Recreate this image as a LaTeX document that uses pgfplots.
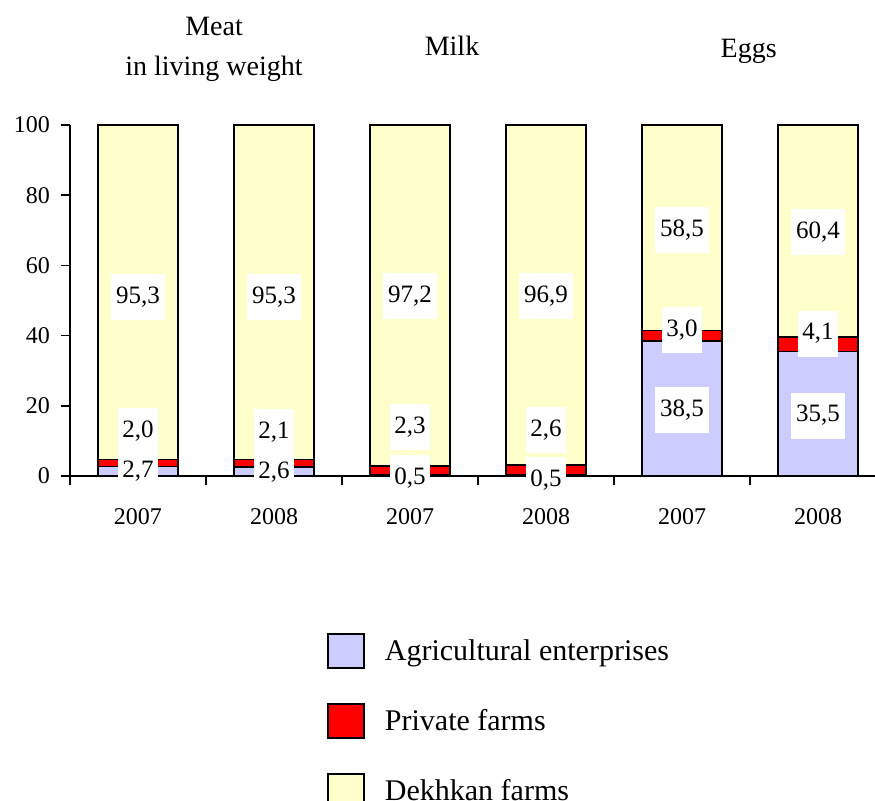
\documentclass[border=0pt]{standalone}
\usepackage{fontspec}
\setmainfont{Liberation Serif}
\usepackage{pgfplots}
\pgfplotsset{compat=1.18}
\usepackage{pgfplotstable}
\definecolor{agr}{HTML}{CCCCFF}
\definecolor{priv}{HTML}{FF0000}
\definecolor{dek}{HTML}{FFFFCC}

\pgfplotstableread{
x agr priv dek
0 2.7 2.0 95.3
1 2.6 2.1 95.3
2 0.5 2.3 97.2
3 0.5 2.6 96.9
4 38.5 3.0 58.5
5 35.5 4.1 60.4
}\datatable

\tikzset{lbl/.style={fill=white, inner xsep=2.4pt, inner ysep=0pt, minimum height=23pt, font=\fontsize{12.5}{14}\selectfont}}
\tikzset{ttl/.style={anchor=base, inner sep=0pt, font=\fontsize{14}{16}\selectfont}}

\begin{document}
\begin{tikzpicture}[x=1pt,y=1pt]
\useasboundingbox (0,0) rectangle (437.5,-400);
\begin{axis}[
  at={(35pt,-238pt)}, anchor=south west,
  scale only axis, width=402.5pt, height=175.5pt,
  xmin=-0.5, xmax=5.419, ymin=0, ymax=100,
  clip=false,
  axis x line*=bottom, axis y line*=left,
  axis line style={-, line width=0.75pt},
  every tick/.style={black, line width=0.75pt},
  tick align=outside,
  major tick length=4.5pt,
  ybar stacked, bar width=40pt, bar shift=0pt,
  ytick={0,20,...,100},
  yticklabel style={xshift=-2pt},
  xtick={-0.5,0.5,...,4.5}, xticklabels={},
  extra x ticks={0,1,2,3,4,5},
  extra x tick labels={2007,2008,2007,2008,2007,2008},
  extra x tick style={major tick length=0pt, xticklabel style={anchor=center, yshift=-20.5pt}},
  /pgf/number format/assume math mode=true,
  ticklabel style={font=\fontsize{12}{14}\selectfont},
  legend cell align=left,
  legend image code/.code={\draw[#1, line width=0.75pt] (0pt,-8.5pt) rectangle (18pt,8.5pt);},
  legend style={at={(0.3193,-0.4473)}, anchor=north west, draw=none, fill=none,
    inner sep=0pt, row sep=17.25pt, column sep=10pt,
    nodes={inner sep=0pt, font=\fontsize{15}{17}\selectfont}},
  after end axis/.code={
    \node[lbl] at (axis cs:0,51.1) {95,3};
    \node[lbl] at (axis cs:0,12.7) {2,0};
    \node[lbl] at (axis cs:0,1.4) {2,7};
    \node[lbl] at (axis cs:1,51.1) {95,3};
    \node[lbl] at (axis cs:1,12.5) {2,1};
    \node[lbl] at (axis cs:1,1.1) {2,6};
    \node[lbl] at (axis cs:2,51.3) {97,2};
    \node[lbl] at (axis cs:2,14.0) {2,3};
    \node[lbl] at (axis cs:2,-0.6) {0,5};
    \node[lbl] at (axis cs:3,51.3) {96,9};
    \node[lbl] at (axis cs:3,13.1) {2,6};
    \node[lbl] at (axis cs:3,-1.1) {0,5};
    \node[lbl] at (axis cs:4,70.2) {58,5};
    \node[lbl] at (axis cs:4,41.7) {3,0};
    \node[lbl] at (axis cs:4,18.9) {38,5};
    \node[lbl] at (axis cs:5,69.6) {60,4};
    \node[lbl] at (axis cs:5,40.6) {4,1};
    \node[lbl] at (axis cs:5,17.2) {35,5};
    \node[ttl] at (axis cs:0.559,125.4) {Meat};
    \node[ttl] at (axis cs:0.559,114.2) {in living weight};
    \node[ttl] at (axis cs:2.309,119.7) {Milk};
    \node[ttl] at (axis cs:4.49,119.1) {Eggs};
  },
]
\addplot[fill=agr, draw=black, line width=0.75pt] table[x=x, y=agr] {\datatable};
\addplot[fill=priv, draw=black, line width=0.75pt] table[x=x, y=priv] {\datatable};
\addplot[fill=dek, draw=black, line width=0.75pt] table[x=x, y=dek] {\datatable};
\legend{Agricultural enterprises, Private farms, Dekhkan farms}
\end{axis}
\end{tikzpicture}
\end{document}
